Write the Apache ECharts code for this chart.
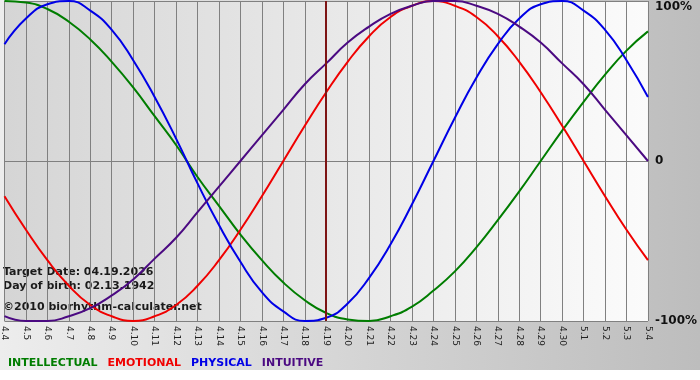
<!DOCTYPE html>
<html>
<head>
<meta charset="utf-8">
<title>biorhythm</title>
<script src="https://cdn.jsdelivr.net/npm/echarts@6/dist/echarts.min.js"></script>
<style>
  html, body { margin: 0; padding: 0; background: #fff; }
  #chart {
    width: 700px;
    height: 380px;
    background: linear-gradient(to right, #ededed, #bdbdbd) top left / 100% 370px no-repeat, #fff;
  }
</style>
</head>
<body>
<div id="chart"></div>
<script>
// dates on the x axis
var days = ['4.4', '4.5', '4.6', '4.7', '4.8', '4.9', '4.10', '4.11', '4.12', '4.13', '4.14', '4.15', '4.16',
  '4.17', '4.18', '4.19', '4.20', '4.21', '4.22', '4.23', '4.24', '4.25', '4.26', '4.27', '4.28', '4.29',
  '4.30', '5.1', '5.2', '5.3', '5.4']

// curve values (-1 .. 1)
var intellectual = [1.00, 0.99, 0.95, 0.87, 0.76, 0.62, 0.46, 0.28, 0.10, -0.10, -0.28, -0.46, -0.62, -0.76,
  -0.87, -0.95, -0.99, -1.00, -0.97, -0.91, -0.81, -0.69, -0.54, -0.37, -0.19, 0.00, 0.19, 0.37, 0.54, 0.69, 0.81]
var emotional = [-0.22, -0.43, -0.62, -0.78, -0.90, -0.97, -1.00, -0.97, -0.90, -0.78, -0.62, -0.43, -0.22, 0.00,
  0.22, 0.43, 0.62, 0.78, 0.90, 0.97, 1.00, 0.97, 0.90, 0.78, 0.62, 0.43, 0.22, 0.00, -0.22, -0.43, -0.62]
var physical = [0.73, 0.89, 0.98, 1.00, 0.94, 0.82, 0.63, 0.40, 0.14, -0.14, -0.40, -0.63, -0.82, -0.94, -1.00,
  -0.98, -0.89, -0.73, -0.52, -0.27, 0.00, 0.27, 0.52, 0.73, 0.89, 0.98, 1.00, 0.94, 0.82, 0.63, 0.40]
var intuitive = [-0.97, -1.00, -1.00, -0.97, -0.92, -0.84, -0.74, -0.61, -0.48, -0.32, -0.16, 0.00, 0.16, 0.32,
  0.48, 0.61, 0.74, 0.84, 0.92, 0.97, 1.00, 1.00, 0.97, 0.92, 0.84, 0.74, 0.61, 0.48, 0.32, 0.16, 0.00]

var targetDay = '4.19'
var yLabels = { '-1': '-100%', '0': '0', '1': '100%' }

var myChart = echarts.init(document.getElementById('chart'))

function line(name, data, color) {
  return {
    name: name,
    type: 'line',
    data: data,
    smooth: 0.5,
    smoothConstraint: false,
    symbol: 'none',
    lineStyle: { color: color, width: 2 },
    itemStyle: { color: color }
  }
}

var series = [
  line('INTELLECTUAL', intellectual, '#007d00'),
  line('EMOTIONAL', emotional, '#f00000'),
  line('PHYSICAL', physical, '#0000e6'),
  line('INTUITIVE', intuitive, '#4b0a82')
]
// 目标日期竖线
series[0].markLine = {
  silent: true,
  symbol: 'none',
  label: { show: false },
  lineStyle: { color: '#7d1414', width: 2, type: 'solid' },
  data: [{ xAxis: targetDay }]
}

var option = {
  animation: false,
  backgroundColor: 'transparent',
  grid: {
    left: 0,
    right: 49,
    top: 1,
    bottom: 59,
    show: true,
    borderWidth: 0,
    backgroundColor: new echarts.graphic.LinearGradient(0, 0, 1, 0, [
      { offset: 0, color: '#d5d5d5' },
      { offset: 1, color: '#fbfbfb' }
    ])
  },
  legend: {
    left: -2,
    top: 353,
    icon: 'none',
    itemWidth: 0,
    itemHeight: 10,
    itemGap: 5,
    selectedMode: false,
    data: [
      { name: 'INTELLECTUAL', textStyle: { color: '#007d00' } },
      { name: 'EMOTIONAL', textStyle: { color: '#f00000' } },
      { name: 'PHYSICAL', textStyle: { color: '#0000e6' } },
      { name: 'INTUITIVE', textStyle: { color: '#4b0a82' } }
    ],
    textStyle: { fontFamily: 'DejaVu Sans', fontWeight: 'bold', fontSize: 11 }
  },
  xAxis: {
    type: 'category',
    data: days,
    boundaryGap: false,
    axisLine: { lineStyle: { color: '#808080', width: 1 } },
    axisTick: { show: true, length: 3, interval: 0, lineStyle: { color: '#808080' } },
    axisLabel: {
      interval: 0,
      rotate: -90,
      margin: 5,
      color: '#222',
      fontFamily: 'DejaVu Sans',
      fontSize: 9
    },
    splitLine: { show: true, interval: 0, lineStyle: { color: '#808080', width: 1 } }
  },
  yAxis: {
    type: 'value',
    position: 'right',
    min: -1,
    max: 1,
    interval: 1,
    axisLine: { show: false },
    axisTick: { show: false },
    axisLabel: {
      margin: 7,
      color: '#111',
      fontFamily: 'DejaVu Sans',
      fontWeight: 'bold',
      fontSize: 12,
      verticalAlignMaxLabel: 'top',
      formatter: function (v) { return yLabels[String(v)] }
    },
    splitLine: { show: true, lineStyle: { color: '#808080', width: 1 } }
  },
  graphic: [
    {
      type: 'text', left: 3, top: 267,
      style: { text: 'Target Date: 04.19.2026', font: 'bold 11px "DejaVu Sans"', fill: '#1a1a1a' }
    },
    {
      type: 'text', left: 3, top: 281,
      style: { text: 'Day of birth: 02.13.1942', font: 'bold 11px "DejaVu Sans"', fill: '#1a1a1a' }
    },
    {
      type: 'text', left: 3, top: 302,
      style: { text: '©2010 biorhythm-calculater.net', font: 'bold 11px "DejaVu Sans"', fill: '#1a1a1a' }
    }
  ],
  series: series
}
myChart.setOption(option)
</script>
</body>
</html>
